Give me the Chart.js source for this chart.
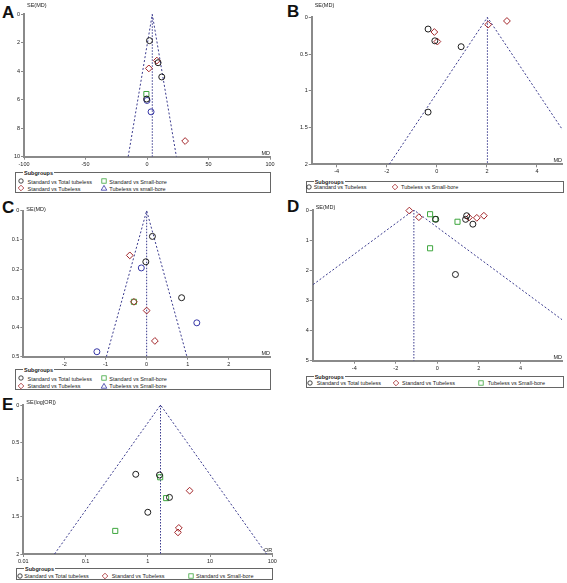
<!DOCTYPE html>
<html>
<head>
<meta charset="utf-8">
<script src="https://cdn.jsdelivr.net/npm/chart.js@4.4.1/dist/chart.umd.min.js"></script>
<style>
  body { margin: 0; background: #fff; width: 567px; height: 583px; position: relative; overflow: hidden;
         font-family: 'Liberation Sans', Arial, sans-serif; }
  canvas { position: absolute; }
  .letter { position: absolute; font-weight: bold; font-size: 17px; line-height: 1; color: #111; }
  .lg { position: absolute; border: 1px solid #666; box-sizing: border-box; }
  .lg .ttl { position: absolute; left: 7px; top: -3px; font-size: 5.5px; font-weight: bold; line-height: 6px;
             background: #fff; padding: 0 1px; color: #222; }
  .lg .it { position: absolute; font-size: 5.5px; line-height: 6px; white-space: nowrap; color: #222; }
  .lg svg { position: absolute; overflow: visible; }
</style>
</head>
<body>
<div class="letter" style="left:2px;top:4px">A</div>
<div class="letter" style="left:287px;top:3px">B</div>
<div class="letter" style="left:2px;top:199px">C</div>
<div class="letter" style="left:287px;top:198px">D</div>
<div class="letter" style="left:2px;top:396px">E</div>
<canvas id="cA"></canvas>
<canvas id="cB"></canvas>
<canvas id="cC"></canvas>
<canvas id="cD"></canvas>
<canvas id="cE"></canvas>
<script>
// A: MD vs SE(MD)
const aTotalMD = [2, 9, 12, -0.3];
const aTotalSE = [1.85, 3.4, 4.4, 5.95];
const aTubMD = [8, 1.5, 31];
const aTubSE = [3.25, 3.8, 8.9];
const aSmallMD = [-0.5];
const aSmallSE = [5.6];
const aTsbMD = [0, 3.3];
const aTsbSE = [6.05, 6.85];
const aPooled = 4.3;
const aXTicks = [-100, -50, 0, 50, 100];
const aYTicks = [0, 2, 4, 6, 8, 10];
const aLabels = ['Standard vs Total tubeless', 'Standard vs Tubeless', 'Standard vs Small-bore', 'Tubeless vs small-bore'];

// B
const bTubMD = [-0.35, -0.08, 0.97, -0.35];
const bTubSE = [0.16, 0.32, 0.4, 1.29];
const bTsbMD = [-0.1, 0.02, 2.05, 2.8];
const bTsbSE = [0.2, 0.33, 0.1, 0.05];
const bPooled = 2.02;
const bXTicks = [-4, -2, 0, 2, 4];
const bYTicks = [0, 0.5, 1, 1.5, 2];
const bLabels = ['Standard vs Tubeless', 'Tubeless vs Small-bore'];

// C
const cTotalMD = [0.14, -0.02, 0.85];
const cTotalSE = [0.088, 0.175, 0.298];
const cTubMD = [-0.41, -0.31, 0, 0.2];
const cTubSE = [0.153, 0.312, 0.342, 0.446];
const cSmallMD = [-0.31];
const cSmallSE = [0.312];
const cTsbMD = [-0.13, 1.22, -1.21];
const cTsbSE = [0.196, 0.384, 0.483];
const cPooled = 0;
const cXTicks = [-2, -1, 0, 1, 2];
const cYTicks = [0, 0.1, 0.2, 0.3, 0.4, 0.5];
const cLabels = ['Standard vs Total tubeless', 'Standard vs Tubeless', 'Standard vs Small-bore', 'Tubeless vs Small-bore'];

// D
const dTotalMD = [-0.08, 1.41, 1.36, 1.71, 0.87];
const dTotalSE = [0.31, 0.19, 0.31, 0.47, 2.14];
const dTubMD = [-1.35, -0.89, 1.52, 1.9, 2.24];
const dTubSE = [0.02, 0.24, 0.25, 0.26, 0.19];
const dTsbMD = [-0.35, -0.1, 0.97, -0.35];
const dTsbSE = [0.14, 0.3, 0.39, 1.27];
const dPooled = -1.13;
const dXTicks = [-4, -2, 0, 2, 4];
const dYTicks = [0, 1, 2, 3, 4, 5];
const dLabels = ['Standard vs Total tubeless', 'Standard vs Tubeless', 'Tubeless vs Small-bore'];

// E: OR (log axis) vs SE(log[OR])
const eTotalOR = [0.64, 1.54, 2.23, 1.0];
const eTotalSE = [0.93, 0.94, 1.24, 1.44];
const eTubOR = [4.7, 3.15, 3.05];
const eTubSE = [1.15, 1.65, 1.71];
const eSmallOR = [1.58, 1.97, 0.3];
const eSmallSE = [0.97, 1.25, 1.69];
const ePooled = 1.6;
const eXTicks = [0.01, 0.1, 1, 10, 100];
const eYTicks = [0, 0.5, 1, 1.5, 2];
const eLabels = ['Standard vs Total tubeless', 'Standard vs Tubeless', 'Standard vs Small-bore'];

const FONT = "'Liberation Sans', Arial, sans-serif";
Chart.defaults.font.family = FONT;
Chart.defaults.font.size = 5.5;
Chart.defaults.color = '#222';
Chart.defaults.animation = false;
Chart.defaults.plugins.legend.display = false;
Chart.defaults.plugins.tooltip.enabled = false;

const SHAPES = {
  circle:  { pointStyle: 'circle',  color: '#1c1c1c', radius: 3 },
  diamond: { pointStyle: 'rectRot', color: '#a3262a', radius: 3.4 },
  square:  { pointStyle: 'rect',    color: '#3da63d', radius: 3.6 },
  blue:    { pointStyle: 'circle',  color: '#3535a5', radius: 3 }
};
const FUNNEL = '#3b3b8e';
const AXIS = '#8a8a8a';

// text next to the axes ("SE(MD)" on top, "MD" at the right end)
const axisTitles = {
  id: 'axisTitles',
  afterDraw(chart, args, o) {
    const { ctx, chartArea: a } = chart;
    ctx.save();
    ctx.font = '5.5px ' + FONT;
    ctx.fillStyle = '#222';
    ctx.textAlign = 'left';
    ctx.fillText(o.y, a.left + 3, a.top + o.yDy);
    ctx.textAlign = 'right';
    ctx.fillText(o.x, a.right, a.bottom - 2);
    ctx.restore();
  }
};

function drawPanel(p) {
  const cv = document.getElementById(p.id);
  const [x0, y0, w, h] = p.box;
  const [l, t, r, b] = p.area;
  cv.width = w; cv.height = h;
  cv.style.left = x0 + 'px'; cv.style.top = y0 + 'px';
  const yW = l - x0, xH = y0 + h - b;

  const lim = p.log ? d => p.pooled * Math.exp(d) : d => p.pooled + d;
  const z = 1.96 * p.yMax;

  const datasets = p.series.map(s => ({
    data: s.x.map((v, i) => ({ x: v, y: s.se[i] })),
    pointStyle: SHAPES[s.shape].pointStyle,
    pointRadius: SHAPES[s.shape].radius,
    pointBorderColor: SHAPES[s.shape].color,
    pointBackgroundColor: 'rgba(255,255,255,0)',
    pointBorderWidth: 1,
    showLine: false,
    clip: false
  }));
  datasets.push({
    data: [{ x: lim(-z), y: p.yMax }, { x: p.pooled, y: 0 }, { x: lim(z), y: p.yMax }],
    showLine: true, pointRadius: 0, borderColor: FUNNEL, borderWidth: 1, borderDash: [2, 2]
  });
  datasets.push({
    data: [{ x: p.pooled, y: 0 }, { x: p.pooled, y: p.yMax }],
    showLine: true, pointRadius: 0, borderColor: FUNNEL, borderWidth: 1, borderDash: [1.5, 1.5]
  });

  const axisCommon = {
    border: { color: AXIS, width: 2 },
    grid: { display: true, drawOnChartArea: false, drawTicks: true, tickLength: 3, color: AXIS, lineWidth: 1 },
    ticks: { font: { size: 5.5 }, color: '#222', padding: 1, autoSkip: false, maxRotation: 0, callback: v => String(v) }
  };

  new Chart(cv, {
    type: 'scatter',
    data: { datasets },
    options: {
      responsive: false,
      layout: { padding: { left: 0, top: t - y0, right: x0 + w - r, bottom: 0 } },
      scales: {
        x: {
          ...axisCommon,
          type: p.log ? 'logarithmic' : 'linear',
          min: p.xMin, max: p.xMax,
          afterBuildTicks: s => { s.ticks = p.xTicks.map(v => ({ value: v })); },
          afterFit: s => { s.height = xH; s.paddingLeft = 0; s.paddingRight = 0; }
        },
        y: {
          ...axisCommon,
          reverse: true, min: 0, max: p.yMax,
          afterBuildTicks: s => { s.ticks = p.yTicks.map(v => ({ value: v })); },
          afterFit: s => { s.width = yW; s.paddingTop = 0; s.paddingBottom = 0; }
        }
      },
      plugins: { axisTitles: { y: p.yTitle, x: p.xTitle, yDy: p.yDy } }
    },
    plugins: [axisTitles]
  });
}

const MARK = {
  circle: '<circle cx="0" cy="0" r="2.2" fill="none" stroke="#1c1c1c" stroke-width="0.8"/>',
  diamond: '<path d="M0 -2.8 L2.8 0 L0 2.8 L-2.8 0 Z" fill="none" stroke="#a3262a" stroke-width="0.8"/>',
  square: '<rect x="-2.2" y="-2.2" width="4.4" height="4.4" fill="none" stroke="#3da63d" stroke-width="0.8"/>',
  triangle: '<path d="M0 -2.6 L2.8 2.2 L-2.8 2.2 Z" fill="none" stroke="#3535a5" stroke-width="0.8"/>'
};

function drawLegend(box, labels, shapes, slots) {
  const el = document.createElement('div');
  el.className = 'lg';
  el.style.left = box[0] + 'px'; el.style.top = box[1] + 'px';
  el.style.width = box[2] + 'px'; el.style.height = box[3] + 'px';
  const ttl = document.createElement('span');
  ttl.className = 'ttl'; ttl.textContent = 'Subgroups';
  el.appendChild(ttl);
  labels.forEach((lab, i) => {
    const [mx, my, tx] = slots[i];
    const svg = document.createElementNS('http://www.w3.org/2000/svg', 'svg');
    svg.setAttribute('width', '1'); svg.setAttribute('height', '1');
    svg.style.left = (mx - 1) + 'px'; svg.style.top = (my - 1) + 'px';
    svg.innerHTML = MARK[shapes[i]];
    el.appendChild(svg);
    const s = document.createElement('span');
    s.className = 'it'; s.textContent = lab;
    s.style.left = tx + 'px'; s.style.top = (my - 3.5) + 'px';
    el.appendChild(s);
  });
  document.body.appendChild(el);
}

drawPanel({
  id: 'cA', box: [0, 0, 285, 170], area: [24, 14.3, 270, 156.7],
  xMin: -100, xMax: 100, xTicks: aXTicks, yMax: 10, yTicks: aYTicks, pooled: aPooled,
  yTitle: 'SE(MD)', xTitle: 'MD', yDy: -7,
  series: [
    { x: aTotalMD, se: aTotalSE, shape: 'circle' },
    { x: aTubMD, se: aTubSE, shape: 'diamond' },
    { x: aSmallMD, se: aSmallSE, shape: 'square' },
    { x: aTsbMD, se: aTsbSE, shape: 'blue' }
  ]
});
drawPanel({
  id: 'cB', box: [285, 0, 282, 178], area: [311.7, 17.3, 565, 164.3],
  xMin: -5, xMax: 5, xTicks: bXTicks, yMax: 2, yTicks: bYTicks, pooled: bPooled,
  yTitle: 'SE(MD)', xTitle: 'MD', yDy: -10,
  series: [
    { x: bTubMD, se: bTubSE, shape: 'circle' },
    { x: bTsbMD, se: bTsbSE, shape: 'diamond' }
  ]
});
drawPanel({
  id: 'cC', box: [0, 196, 285, 170], area: [23.3, 210.7, 270, 356.7],
  xMin: -3, xMax: 3, xTicks: cXTicks, yMax: 0.5, yTicks: cYTicks, pooled: cPooled,
  yTitle: 'SE(MD)', xTitle: 'MD', yDy: 0.5,
  series: [
    { x: cTotalMD, se: cTotalSE, shape: 'circle' },
    { x: cTubMD, se: cTubSE, shape: 'diamond' },
    { x: cSmallMD, se: cSmallSE, shape: 'square' },
    { x: cTsbMD, se: cTsbSE, shape: 'blue' }
  ]
});
drawPanel({
  id: 'cD', box: [285, 196, 282, 175], area: [312.7, 210, 565, 360.7],
  xMin: -6, xMax: 6, xTicks: dXTicks, yMax: 5, yTicks: dYTicks, pooled: dPooled,
  yTitle: 'SE(MD)', xTitle: 'MD', yDy: -1,
  series: [
    { x: dTotalMD, se: dTotalSE, shape: 'circle' },
    { x: dTubMD, se: dTubSE, shape: 'diamond' },
    { x: dTsbMD, se: dTsbSE, shape: 'square' }
  ]
});
drawPanel({
  id: 'cE', box: [0, 398, 290, 168], area: [23.3, 405, 272.3, 554],
  log: true, xMin: 0.01, xMax: 100, xTicks: eXTicks, yMax: 2, yTicks: eYTicks, pooled: ePooled,
  yTitle: 'SE(log[OR])', xTitle: 'OR', yDy: -1,
  series: [
    { x: eTotalOR, se: eTotalSE, shape: 'circle' },
    { x: eTubOR, se: eTubSE, shape: 'diamond' },
    { x: eSmallOR, se: eSmallSE, shape: 'square' }
  ]
});

drawLegend([15, 172, 256, 21], aLabels, ['circle', 'diamond', 'square', 'triangle'],
  [[6, 9, 11.5], [6, 16.3, 11.5], [89, 9, 93.3], [89, 16.3, 93.3]]);
drawLegend([305.7, 181, 258.5, 11.7], bLabels, ['circle', 'diamond'],
  [[3.5, 5.7, 7], [89, 5.7, 94.3]]);
drawLegend([15, 369, 256, 21], cLabels, ['circle', 'diamond', 'square', 'triangle'],
  [[6, 9.3, 11.5], [6, 16.7, 11.5], [89, 9.3, 93.3], [89, 16.7, 93.3]]);
drawLegend([305.7, 375.7, 258.5, 12], dLabels, ['circle', 'diamond', 'square'],
  [[4, 7, 10], [90, 7, 95.3], [175, 7, 181]]);
drawLegend([16, 567.7, 256.7, 12.3], eLabels, ['circle', 'diamond', 'square'],
  [[3.5, 8, 7.3], [89, 8, 94.7], [174.5, 8, 179]]);
</script>
</body>
</html>
